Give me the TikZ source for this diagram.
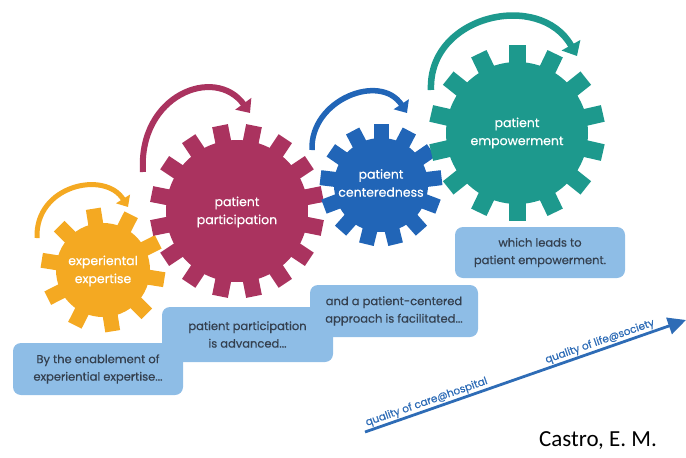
\documentclass[tikz,border=0pt]{standalone}
\usepackage{fontspec}
\usetikzlibrary{arrows.meta}
\newfontfamily\roundfont[FakeBold=0.5]{Poppins}
\newfontfamily\capfont{Carlito}

\definecolor{cogyellow}{HTML}{F4A922}
\definecolor{cogberry}{HTML}{AA335F}
\definecolor{cogblue}{HTML}{2165B7}
\definecolor{cogteal}{HTML}{1D998D}
\definecolor{boxblue}{HTML}{8EBDE6}
\definecolor{boxtext}{HTML}{34404F}
\definecolor{axisblue}{HTML}{2E6CB6}

% gear: centre x, centre y, body radius, outer radius, teeth, tooth width, first angle, colour
\newcommand{\cog}[8]{%
  \begin{scope}[shift={(#1,#2)}]
    \fill[#8] (0,0) circle[radius=#3];
    \foreach \k in {1,...,#5}{
      \fill[#8, rotate={#7+(\k-1)*360/#5}] (#3-4,-#6/2) rectangle (#4,#6/2);
    }
  \end{scope}}

\tikzset{
  geartext/.style={font=\roundfont\fontsize{12.5}{18}\selectfont, text=white, align=center, inner sep=0pt},
  infobox/.style={fill=boxblue, rounded corners=8pt, align=center, inner sep=0pt,
    font=\roundfont\fontsize{11.5}{17.5}\selectfont, text=boxtext},
  turn/.style={line width=#1, -{Triangle[length=1.9*#1,width=3.2*#1]}},
  turn/.default=5pt,
  axislabel/.style={font=\roundfont\fontsize{10.5}{12}\selectfont, text=axisblue, sloped, above, inner sep=1pt}
}

\begin{document}
\begin{tikzpicture}[x=1pt, y=-1pt]
  \useasboundingbox (0,0) rectangle (686,458);

  % the four gears
  \cog{103}{270}{47}{62}{10}{15}{99}{cogyellow}
  \cog{237}{211}{71}{87}{16}{16}{11.25}{cogberry}
  \cog{381}{185}{47}{61}{13}{15}{90}{cogblue}
  \cog{517}{133}{71}{88}{14}{17}{90}{cogteal}

  \node[geartext] (g1) at (103,271) {experiental\\expertise};
  \node[geartext] (g2) at (237,212) {patient\\participation};
  \node[geartext] (g3) at (381,183) {patient\\centeredness};
  \node[geartext] (g4) at (517,133) {patient\\empowerment};

  % rotation arrows above the gears
  \coordinate (r1s) at (37,238);  \coordinate (r1e) at (128,207);
  \coordinate (r2s) at (143,172); \coordinate (r2e) at (250,113);
  \coordinate (r3s) at (312,150); \coordinate (r3e) at (407,113);
  \coordinate (r4s) at (431,90);  \coordinate (r4e) at (577,56);
  \draw[turn=5pt, cogyellow] (r1s) .. controls (35,185) and (105,170) .. (r1e);
  \draw[turn=6pt, cogberry] (r2s) .. controls (138,95) and (215,65) .. (r2e);
  \draw[turn=5.5pt, cogblue] (r3s) .. controls (310,100) and (380,72) .. (r3e);
  \draw[turn=6.5pt, cogteal] (r4s) .. controls (428,15) and (540,-10) .. (r4e);

  % text boxes, stepping up to the right
  \node[infobox, minimum width=171pt, minimum height=55pt] (b2) at (247.5,334.5)
    {patient participation\\is advanced...};
  \node[infobox, minimum width=170pt, minimum height=52pt] (b1) at (98,369)
    {By the enablement of\\experiential expertise...};
  \node[infobox, minimum width=168pt, minimum height=52pt] (b3) at (394,311)
    {and a patient-centered\\approach is facilitated...};
  \node[infobox, minimum width=170pt, minimum height=51pt] (b4) at (540,252.5)
    {which leads to\\patient empowerment.};

  % quality axis
  \coordinate (qs) at (365,432);
  \coordinate (qe) at (686,320);
  \draw[axisblue, line width=2.8pt, -{Triangle[length=18pt,width=17pt]}] (qs) --
    node[axislabel, pos=0.2] (qc) {quality of care@hospital}
    node[axislabel, pos=0.74] (ql) {quality of life@society} (qe);

  \node[font=\capfont\fontsize{23}{26}\selectfont, text=black] (cite) at (598,441) {Castro, E. M.};
\end{tikzpicture}
\end{document}
